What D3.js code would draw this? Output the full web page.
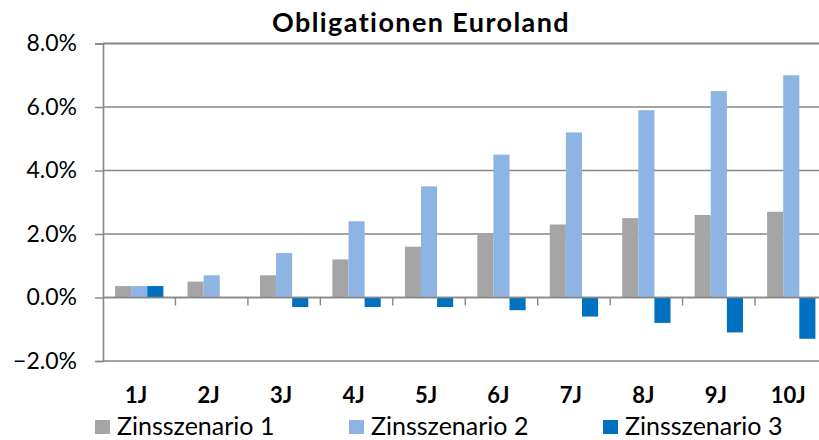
<!DOCTYPE html>
<html>
<head>
<meta charset="utf-8">
<script src="https://cdn.jsdelivr.net/npm/d3@7"></script>
<style>
  html, body { margin: 0; padding: 0; background: #fff; }
  svg { display: block; font-family: Lato, "Open Sans", sans-serif; font-variant-ligatures: none; }
</style>
</head>
<body>
<svg id="chart" width="819" height="440"></svg>
<script>
const title = "Obligationen Euroland";
const categories = ["1J","2J","3J","4J","5J","6J","7J","8J","9J","10J"];
const seriesNames = ["Zinsszenario 1","Zinsszenario 2","Zinsszenario 3"];
const szenario1 = [0.36, 0.5, 0.7, 1.2, 1.6, 2.0, 2.3, 2.5, 2.6, 2.7];
const szenario2 = [0.36, 0.7, 1.4, 2.4, 3.5, 4.5, 5.2, 5.9, 6.5, 7.0];
const szenario3 = [0.36, 0.0, -0.3, -0.3, -0.3, -0.4, -0.6, -0.8, -1.1, -1.3];
const yTicks = [-2, 0, 2, 4, 6, 8];
const colors = ["#A5A5A5", "#8DB4E2", "#0070C0"];

(function () {
const series = [szenario1, szenario2, szenario3];
const svg = d3.select("#chart");
const pLeft = 103, pRight = 827.5, pTop = 43.5, pBottom = 361;
const gridColor = "#868686";

const x = d3.scaleBand().domain(categories).range([pLeft, pRight]).padding(0);
const x1 = d3.scaleBand().domain(d3.range(seriesNames.length)).range([0, x.bandwidth()]).paddingInner(0).paddingOuter(0.75);
const y = d3.scaleLinear().domain([-2, 8]).range([pBottom, pTop]);

// gridlines
svg.append("g").selectAll("line").data(yTicks).join("line")
  .attr("x1", pLeft).attr("x2", pRight)
  .attr("y1", d => y(d)).attr("y2", d => y(d))
  .attr("stroke", gridColor).attr("stroke-width", d => d === 8 ? 2 : 1.4);

// y axis
const yAxis = d3.axisLeft(y).tickValues(yTicks).tickSize(8).tickPadding(18)
  .tickFormat(d => d3.format(".1f")(d) + "%");
const gy = svg.append("g").attr("transform", `translate(${pLeft},0)`).call(yAxis);
gy.select(".domain").attr("stroke", gridColor).attr("stroke-width", 1.6);
gy.selectAll(".tick line").attr("stroke", gridColor).attr("stroke-width", 1.4);
gy.selectAll(".tick text").attr("font-size", 23).attr("fill", "#000")
  .attr("font-family", "Lato, sans-serif");

// bars
const groups = svg.append("g").selectAll("g").data(categories).join("g")
  .attr("transform", d => `translate(${x(d)},0)`);
groups.selectAll("rect")
  .data((c, i) => series.map((s, k) => ({k, v: s[i]})))
  .join("rect")
  .attr("x", d => x1(d.k))
  .attr("width", x1.bandwidth())
  .attr("y", d => y(Math.max(0, d.v)))
  .attr("height", d => Math.abs(y(d.v) - y(0)))
  .attr("fill", d => colors[d.k]);

// x axis at zero
svg.append("line").attr("x1", pLeft).attr("x2", pRight)
  .attr("y1", y(0)).attr("y2", y(0)).attr("stroke", gridColor).attr("stroke-width", 1.6);
svg.append("g").selectAll("line").data(categories.slice(1)).join("line")
  .attr("x1", d => x(d)).attr("x2", d => x(d))
  .attr("y1", y(0)).attr("y2", y(0) + 8)
  .attr("stroke", gridColor).attr("stroke-width", 1.4);

// category labels
svg.append("g").selectAll("text").data(categories).join("text")
  .attr("x", d => x(d) + x.bandwidth() / 2 - 3)
  .attr("y", 403)
  .attr("text-anchor", "middle")
  .attr("font-size", 22).attr("font-weight", "bold")
  .text(d => d);

// title
svg.append("text").attr("x", 421).attr("y", 31.5).attr("text-anchor", "middle")
  .attr("font-size", 27).attr("font-weight", "bold")
  .attr("letter-spacing", 1.4).text(title);

// legend
const lg = svg.append("g").selectAll("g").data(seriesNames).join("g")
  .attr("transform", (d, i) => `translate(${95 + i * 254},420)`);
lg.append("rect").attr("width", 15).attr("height", 14).attr("fill", (d, i) => colors[i]);
lg.append("text").attr("x", 22).attr("y", 15).attr("font-size", 25).text(d => d);
})();
</script>
</body>
</html>
